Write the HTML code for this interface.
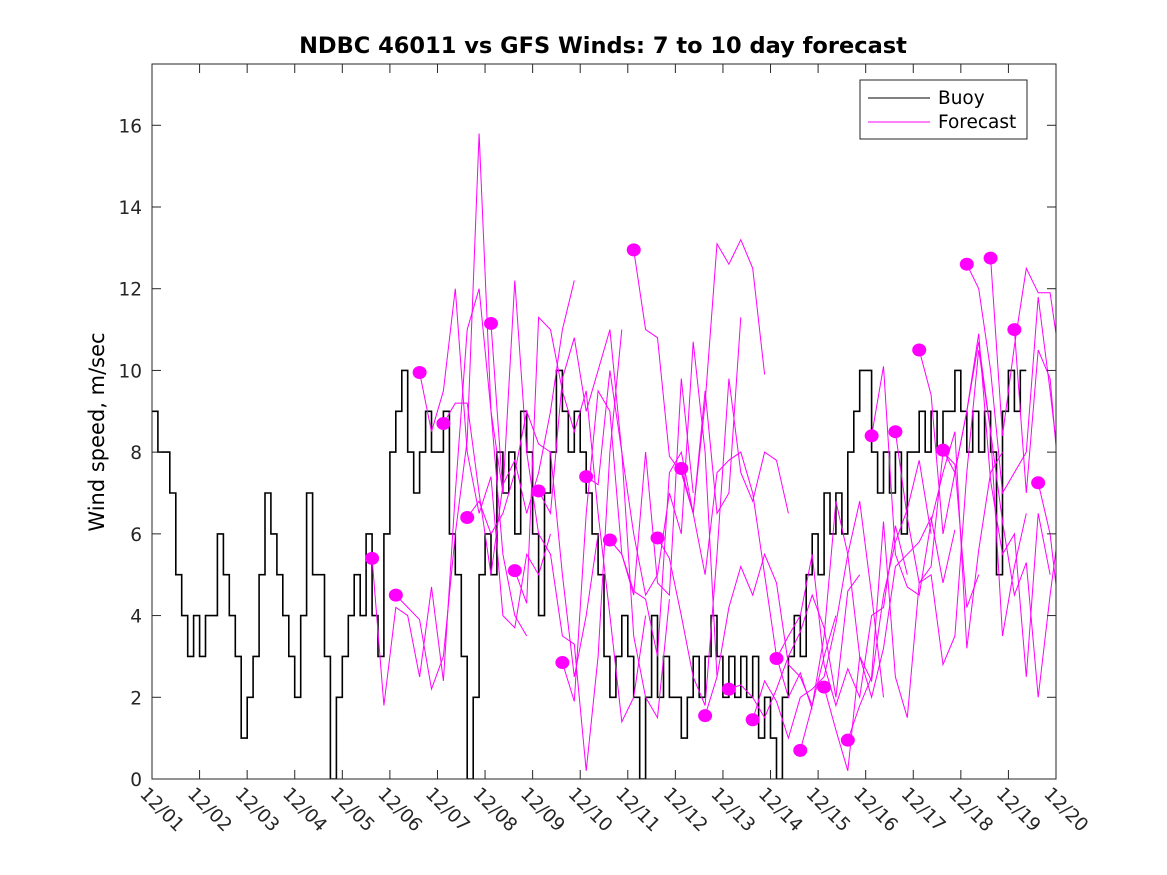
<!DOCTYPE html>
<html><head><meta charset="utf-8"><style>
body{margin:0;background:#fff;}
svg{display:block;font-family:"Liberation Sans","DejaVu Sans",sans-serif;}
</style></head><body>
<svg id="chart" width="1167" height="875" xmlns="http://www.w3.org/2000/svg">
<rect width="1167" height="875" fill="#fff"/>
<text x="603" y="53" text-anchor="middle" font-size="22.5" font-weight="bold" font-family="DejaVu Sans, sans-serif">NDBC 46011 vs GFS Winds: 7 to 10 day forecast</text>
<text transform="translate(104,432) rotate(-90)" text-anchor="middle" font-size="21" font-family="DejaVu Sans, sans-serif">Wind speed, m/sec</text>
<defs><clipPath id="pc"><rect x="152" y="64" width="904" height="715"/></clipPath></defs>
<g id="plot" clip-path="url(#pc)"></g>
<g id="axes"></g>
<g>
<rect x="860" y="80" width="167" height="59" fill="#fff" stroke="#262626" stroke-width="1"/>
<line x1="868" y1="98" x2="930" y2="98" stroke="#000" stroke-width="1"/>
<text x="938" y="104" font-size="18.5" font-family="DejaVu Sans, sans-serif">Buoy</text>
<line x1="868" y1="122" x2="930" y2="122" stroke="#f0f" stroke-width="1"/>
<text x="938" y="128" font-size="18.5" font-family="DejaVu Sans, sans-serif">Forecast</text>
</g>
</svg>
<script>
const xTickLabels=["12/01","12/02","12/03","12/04","12/05","12/06","12/07","12/08","12/09","12/10","12/11","12/12","12/13","12/14","12/15","12/16","12/17","12/18","12/19","12/20"];
const yTicks=[0,2,4,6,8,10,12,14,16];
// buoy: 3-hourly values starting 12/01 00:00
const buoy=[9,8,8,7,5,4,3,4, 3,4,4,6,5,4,3,1, 2,3,5,7,6,5,4,3, 2,4,7,5,5,3,0,2,
3,4,5,4,6,4,3,6, 8,9,10,8,7,8,9,8, 8,9,6,5,3,0,2,5, 6,5,8,7,8,6,9,8,
6,4,7,8,10,9,8,9, 8,7,6,5,3,2,3,4, 3,2,0,2,4,2,3,2, 2,1,2,3,2,3,4,3,
2,3,2,3,2,3,1,2, 1,0,2,3,4,3,5,6, 5,7,6,7,6,8,9,10, 10,8,7,8,7,8,6,8,
8,9,8,9,8,9,9,10, 9,8,9,8,9,8,5,9, 10,9,10];
const fcStart0=4.625;
const fcStep=0.5;
const fcValues=[
[5.4,1.8,4.2,4.0,2.5,4.7,2.4,7,11,12,9,7],
[4.5,4.2,3.9,2.2,3.0,6,8.3,15.8,9,5.5,4.0,3.5],
[9.95,8.5,9.5,12,8,6.5,7.4,4,3.7,5.5,5,6],
[8.7,9.2,9.2,7,5,7.2,7.8,6.5,7.5,9,11,12.2],
[6.4,6.8,6,6.5,7.5,9,8.2,8,5,2.5,4,6],
[11.15,7,12.2,8,6,5.5,3.5,3.3,0.2,3,8,11],
[5.1,4.3,11.3,11,9.5,8.5,9.5,6.5,4,1.4,2,4],
[7.05,6.5,9.8,10.8,9,10,11,8,3.5,2,1.5,4.4],
[2.85,1.9,6.5,9.5,9,5.5,4.5,8,4.8,4.5,9.8,7],
[7.4,7.2,10,8,6,4.5,5,7,6,10.7,8,2.5],
[5.85,5.5,4.6,4.4,3,7.5,8,6.5,9.5,6.5,7,11.3],
[12.95,11,10.8,7.9,7.5,6.5,9.2,13.1,12.6,13.2,12.5,9.9],
[5.9,5.4,4,2.5,1.8,5.5,9.8,7.5,6.8,8,7.8,6.5],
[7.6,6.5,5,7.5,7.8,8,7,5,3,2,2.6,1.7],
[1.55,2.5,4.2,5.2,4.5,5.5,4.8,2.8,2.5,1.8,3,4],
[2.2,2.3,2.0,1.5,2.2,3.0,3.6,4.5,3.7,2,4.6,5],
[1.45,2.4,1.9,1.0,2.0,2.2,2.5,3.8,5.5,6.8,4.5,2],
[2.95,3.5,4,5.5,2.8,1.8,2.7,2.0,4,4.2,6.2,5],
[0.7,1.8,3.5,6.8,5.5,3.0,2.4,4.5,5.8,6.6,7.8,6],
[2.25,1.2,0.2,3.0,2.0,3.2,5.2,5.5,5.8,6.4,4.8,6.1],
[0.95,1.8,2.5,6.3,2.5,1.5,4.8,5.2,8.0,7.7,4.2,5],
[8.4,10.1,5.5,4.7,4.5,6.3,7.5,8.5,3.2,5.6,7.5,8],
[8.5,6.4,4.8,5,2.8,3.5,7.5,10.5,8.5,3.5,5.2,6.5],
[10.5,9.4,6,7.5,9,10.9,7.3,5.5,6,2.5,6.5,5],
[8.05,7.5,9,10.7,8.5,6.3,4.5,5.3,2.0,4.5,6.7,10.7],
[12.6,12,10,7,7.5,8,11.8,9.5,7,7.7,10.8,9.0],
[12.75,8.4,10.6,12.5,11.9,11.9,9.9,9.3,4.5,3.5,6,5.5],
[11.0,7.0,10.5,9.8,6.5,7.5,11.3,10,9,7,5.5,4.5],
[7.25,6,3.5,1.2,5.0,6.5,6,5]
];
const X0=152,X1=1056,Y0=779,Y1=64,XMAX=19,YMAX=17.5;
function xs(d){return X0+(X1-X0)*d/XMAX;}
function ys(v){return Y0-(Y0-Y1)*v/YMAX;}
const NS="http://www.w3.org/2000/svg";
function mk(t,a,p){const e=document.createElementNS(NS,t);for(const k in a)e.setAttribute(k,a[k]);p.appendChild(e);return e;}
const plot=document.getElementById('plot'),axes=document.getElementById('axes');
let d="";
buoy.forEach((v,i)=>{const x0=xs(i/8),x1=xs((i+1)/8),y=ys(v);d+=(i?"L":"M")+x0.toFixed(1)+","+y.toFixed(1)+"L"+x1.toFixed(1)+","+y.toFixed(1);});
const bl=mk('path',{d:d,fill:"none",stroke:"#000","stroke-width":1.6},plot);


fcValues.forEach((arr,k)=>{
  const t0=fcStart0+fcStep*k;
  const pts=arr.map((v,i)=>xs(t0+i*0.25).toFixed(1)+","+ys(v).toFixed(1)).join(" ");
  const pl=mk('polyline',{points:pts,fill:"none",stroke:"#f0f","stroke-width":1},plot);
  
  
});
fcValues.forEach((arr,k)=>{
  const t0=fcStart0+fcStep*k;
  const c=mk('ellipse',{cx:xs(t0),cy:ys(arr[0]),rx:7,ry:6.5,fill:"#f0f"},plot);
  
  
});
const box=mk('rect',{x:X0,y:Y1,width:X1-X0,height:Y0-Y1,fill:"none",stroke:"#262626","stroke-width":1},axes);


yTicks.forEach(v=>{
  const y=ys(v);
  mk('line',{x1:X0,y1:y,x2:X0+9,y2:y,stroke:"#262626"},axes);
  mk('line',{x1:X1,y1:y,x2:X1-9,y2:y,stroke:"#262626"},axes);
  const t=mk('text',{x:X0-10,y:y+7,"text-anchor":"end","font-size":18.5,"font-family":"DejaVu Sans, sans-serif",fill:"#262626"},axes);
  t.textContent=v;
  
  
});
xTickLabels.forEach((lab,i)=>{
  const x=xs(i);
  mk('line',{x1:x,y1:Y0,x2:x,y2:Y0-9,stroke:"#262626"},axes);
  mk('line',{x1:x,y1:Y1,x2:x,y2:Y1+9,stroke:"#262626"},axes);
  const t=mk('text',{transform:"translate("+(x-13)+","+(Y0+16)+") rotate(45)","font-size":18.5,"font-family":"DejaVu Sans, sans-serif",fill:"#262626"},axes);
  t.textContent=lab;
  
  
});
</script>
</body></html>
